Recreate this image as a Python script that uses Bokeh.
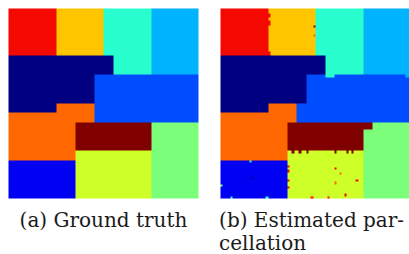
import numpy as np
from bokeh.plotting import figure
from bokeh.layouts import row
from bokeh.models import Range1d, LinearColorMapper
from bokeh.embed import file_html
from bokeh.resources import INLINE
from bokeh.core.properties import value

# label codes (ordered along the jet colormap) and their colours
labels = ["N", "B", "b", "L", "C", "G", "Y", "O", "o", "R", "D"]
palette = ["#000080", "#0000F3", "#004DFF", "#00B3FF", "#29FFCE", "#7BFF7B",
           "#CEFF29", "#FFC600", "#FF6800", "#F30900", "#800000"]

# ground truth label map, 40x40, run-length rows (repeat, runs), top row first
truth_rows = [
    (10, "R10 O10 C10 L10"),
    (4, "N22 C8 L10"),
    (6, "N18 b22"),
    (2, "N10 o8 b22"),
    (2, "o18 b22"),
    (6, "o14 D16 G10"),
    (2, "o14 Y16 G10"),
    (8, "B14 Y16 G10"),
]

# estimated parcellation, 80x80, run-length rows, top row first
est_rows = [
    (2, "R20 O20 C20 L20"),
    (2, "R21 O19 C20 L20"),
    (1, "R20 O20 C20 L20"),
    (2, "R21 O19 C20 L20"),
    (11, "R20 O20 C20 L20"),
    (2, "R21 O19 C20 L20"),
    (8, "N44 C16 L20"),
    (1, "N36 b8 C4 b30 L2"),
    (11, "N36 b44"),
    (4, "N20 o12 b48"),
    (4, "o32 b48"),
    (3, "o28 D36 G16"),
    (9, "o28 D32 G20"),
    (4, "o28 Y32 G20"),
    (16, "B28 Y32 G20"),
]
# isolated mislabelled voxels in the estimate (column, row, label)
speck_col = [48, 50, 48, 57, 52, 38, 45, 28, 28, 28, 28, 12, 0, 13, 19, 4, 39, 39, 30, 33, 36, 48, 53, 55]
speck_row = [67, 69, 73, 72, 78, 79, 79, 66, 68, 72, 75, 64, 74, 71, 79, 79, 7, 11, 60, 60, 60, 60, 60, 60]
speck_lab = ["R", "o", "o", "R", "R", "R", "R", "R", "R", "R", "R", "C", "G", "N", "C", "C", "D", "o",
             "D", "D", "D", "D", "D", "D"]

captions = ["(a) Ground truth", "(b) Estimated par-", "cellation"]


def build(rows_spec):
    out = []
    for rep, runs in rows_spec:
        line = []
        for tok in runs.split():
            line += [labels.index(tok[0])] * int(tok[1:])
        out += [line] * rep
    return np.array(out, dtype=float)


truth = build(truth_rows)
est = build(est_rows)
for c, r, l in zip(speck_col, speck_row, speck_lab):
    est[r, c] = labels.index(l)

mapper = LinearColorMapper(palette=palette, low=-0.5, high=len(labels) - 0.5)

CELL = 190 / 40.0  # pixels per grid unit
H = 254
TOP = 8
W1, W2 = 210, 199
OFF1, OFF2 = 8, 10
FONT = value("DejaVu Serif")
FS = "20px"
TC = "#1a1a1a"
BASE1, BASE2 = 219.5, 242  # caption anchor, px from the top of the figure


def ypx(px):
    return 40 - (px - TOP) / CELL


def make_fig(width, left_px):
    p = figure(width=width, height=H, output_backend="svg", toolbar_location=None,
               x_range=Range1d(-left_px / CELL, (width - left_px) / CELL),
               y_range=Range1d(ypx(H), ypx(0)), min_border=0)
    p.axis.visible = False
    p.grid.visible = False
    p.outline_line_color = None
    p.background_fill_color = "white"
    p.border_fill_color = "white"
    return p


p1 = make_fig(W1, OFF1)
p1.image(image=[np.flipud(truth)], x=0, y=0, dw=40, dh=40, color_mapper=mapper)
p1.text(x=[20], y=[ypx(BASE1)], text=[captions[0]], text_align="center",
        text_baseline="alphabetic", text_font=FONT, text_font_size=FS, text_color=TC)

p2 = make_fig(W2, OFF2)
p2.image(image=[np.flipud(est)], x=0, y=0, dw=40, dh=40, color_mapper=mapper)
p2.text(x=[-0.3, -0.3], y=[ypx(BASE1), ypx(BASE2)], text=captions[1:],
        text_align="left", text_baseline="alphabetic", text_font=FONT,
        text_font_size=FS, text_color=TC)

layout = row(p1, p2)
open("out.html", "w").write(file_html(layout, INLINE))
